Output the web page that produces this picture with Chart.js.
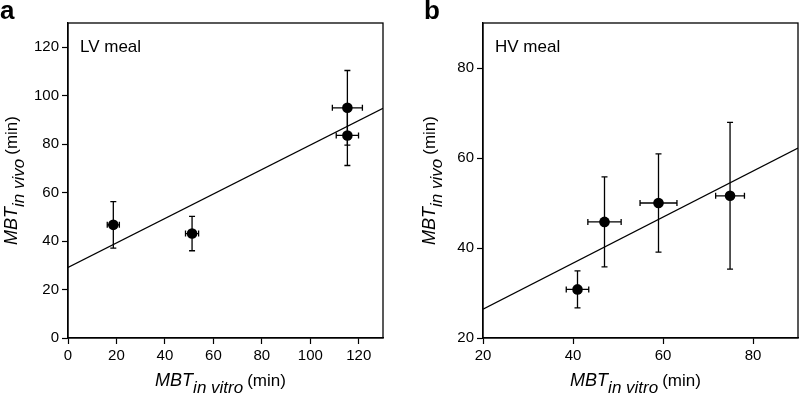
<!DOCTYPE html>
<html>
<head>
<meta charset="utf-8">
<script src="https://cdn.jsdelivr.net/npm/chart.js@4"></script>
<style>
  html, body { margin: 0; padding: 0; background: #fff; }
  #wrap { position: relative; width: 799px; height: 397px; }
  .panel { position: absolute; top: 0; height: 397px; }
  #panelA { left: 0; width: 400px; }
  #panelB { left: 400px; width: 399px; }
</style>
</head>
<body>
<div id="wrap">
  <div class="panel" id="panelA"><canvas id="chartA"></canvas></div>
  <div class="panel" id="panelB"><canvas id="chartB"></canvas></div>
</div>
<script>
// ===== DATA: LV meal =====
const LV_X = [18.7, 51.2, 115.3, 115.3];
const LV_Y = [46.7, 43.1, 95.0, 83.6];
const LV_XERR = [2.5, 2.7, 6.2, 4.6];
const LV_YERR = [9.6, 7.1, 15.4, 12.4];
const LV_FIT_X = [0, 130];
const LV_FIT_Y = [29.1, 94.8];
const LV_XTICKS = [0, 20, 40, 60, 80, 100, 120];
const LV_YTICKS = [0, 20, 40, 60, 80, 100, 120];

// ===== DATA: HV meal =====
const HV_X = [41.0, 47.0, 59.0, 74.9];
const HV_Y = [30.8, 45.8, 50.0, 51.6];
const HV_XERR = [2.5, 3.7, 4.1, 3.2];
const HV_YERR = [4.1, 10.0, 10.9, 16.3];
const HV_FIT_X = [20, 90];
const HV_FIT_Y = [26.4, 62.2];
const HV_XTICKS = [20, 40, 60, 80];
const HV_YTICKS = [20, 40, 60, 80];

// ===== STYLE =====
const FONT = "'Liberation Sans', Arial, Helvetica, sans-serif";
const INK = '#000';
const CAP = 3;

Chart.defaults.font.family = FONT;
Chart.defaults.color = INK;

// error bars, drawn under the markers from the scales
const errorBars = {
  id: 'errorBars',
  beforeDatasetsDraw(chart, args, opts) {
    const { ctx, scales: { x, y } } = chart;
    const pts = chart.data.datasets[0].data;
    ctx.save();
    ctx.strokeStyle = INK;
    ctx.lineWidth = 1.3;
    pts.forEach((p, i) => {
      const px = x.getPixelForValue(p.x), py = y.getPixelForValue(p.y);
      const x0 = x.getPixelForValue(p.x - opts.xErr[i]), x1 = x.getPixelForValue(p.x + opts.xErr[i]);
      const y0 = y.getPixelForValue(p.y - opts.yErr[i]), y1 = y.getPixelForValue(p.y + opts.yErr[i]);
      ctx.beginPath();
      ctx.moveTo(px, y0); ctx.lineTo(px, y1);
      ctx.moveTo(px - CAP, y0); ctx.lineTo(px + CAP, y0);
      ctx.moveTo(px - CAP, y1); ctx.lineTo(px + CAP, y1);
      ctx.moveTo(x0, py); ctx.lineTo(x1, py);
      ctx.moveTo(x0, py - CAP); ctx.lineTo(x0, py + CAP);
      ctx.moveTo(x1, py - CAP); ctx.lineTo(x1, py + CAP);
      ctx.stroke();
    });
    ctx.restore();
  }
};

// frame, panel letter, label and the axis titles with subscripts
function drawParts(ctx, parts) {
  let w = 0;
  parts.forEach(p => { ctx.font = p.font; w += ctx.measureText(p.text).width + (p.gap || 0); });
  let cx = -w / 2;
  parts.forEach(p => {
    ctx.font = p.font;
    cx += (p.gap || 0);
    ctx.fillText(p.text, cx, p.dy);
    cx += ctx.measureText(p.text).width;
  });
}

function titleParts(sub) {
  return [
    { text: 'MBT', font: `italic 18px ${FONT}`, dy: 0 },
    { text: sub, font: `italic 17px ${FONT}`, dy: 7 },
    { text: '(min)', font: `17px ${FONT}`, dy: 0, gap: 4 }
  ];
}

const decor = {
  id: 'decor',
  afterDraw(chart, args, opts) {
    const { ctx, chartArea: a } = chart;
    ctx.save();
    ctx.strokeStyle = INK;
    ctx.lineWidth = 1.3;
    ctx.strokeRect(a.left, a.top, a.right - a.left, a.bottom - a.top);
    ctx.fillStyle = INK;
    ctx.textAlign = 'left';
    ctx.textBaseline = 'alphabetic';

    ctx.font = `bold 26px ${FONT}`;
    ctx.fillText(opts.letter, opts.letterX, 19);

    ctx.font = `17px ${FONT}`;
    ctx.fillText(opts.label, a.left + 12, 52);

    ctx.save();
    ctx.translate((a.left + a.right) / 2 - 5, 386);
    drawParts(ctx, titleParts('in vitro'));
    ctx.restore();

    ctx.save();
    ctx.translate(opts.yTitleX, (a.top + a.bottom) / 2);
    ctx.rotate(-Math.PI / 2);
    drawParts(ctx, titleParts('in vivo'));
    ctx.restore();
    ctx.restore();
  }
};

function axis(min, max, ticks, fit) {
  return {
    type: 'linear', min, max,
    afterBuildTicks: s => { s.ticks = ticks.map(v => ({ value: v })); },
    afterFit: fit,
    grid: { display: true, drawOnChartArea: false, drawTicks: true, tickLength: 6, tickColor: INK, tickWidth: 1.2 },
    border: { display: true, color: INK, width: 1.3 },
    ticks: { color: INK, padding: 3, font: { size: 15 }, maxRotation: 0, autoSkip: false }
  };
}

function makeChart(id, cfg) {
  const pts = cfg.xs.map((v, i) => ({ x: v, y: cfg.ys[i] }));
  const fit = cfg.fitX.map((v, i) => ({ x: v, y: cfg.fitY[i] }));
  return new Chart(document.getElementById(id), {
    type: 'scatter',
    data: {
      datasets: [
        { data: pts, pointRadius: 5.3, pointHoverRadius: 5.3, backgroundColor: INK, borderWidth: 0 },
        { type: 'line', data: fit, showLine: true, pointRadius: 0, borderColor: INK, borderWidth: 1.2, fill: false }
      ]
    },
    options: {
      responsive: true, maintainAspectRatio: false, animation: false,
      layout: { padding: cfg.padding, autoPadding: false },
      plugins: {
        legend: { display: false }, tooltip: { enabled: false },
        errorBars: { xErr: cfg.xErr, yErr: cfg.yErr },
        decor: { letter: cfg.letter, letterX: cfg.letterX, label: cfg.label, yTitleX: cfg.yTitleX }
      },
      scales: {
        x: axis(cfg.xMin, cfg.xMax, cfg.xTicks, s => { s.height = 59; }),
        y: axis(cfg.yMin, cfg.yMax, cfg.yTicks, s => { s.width = cfg.yWidth; })
      }
    },
    plugins: [errorBars, decor]
  });
}

makeChart('chartA', {
  xs: LV_X, ys: LV_Y, xErr: LV_XERR, yErr: LV_YERR, fitX: LV_FIT_X, fitY: LV_FIT_Y,
  xMin: 0, xMax: 130, yMin: 0, yMax: 130, xTicks: LV_XTICKS, yTicks: LV_YTICKS,
  padding: { top: 23, right: 17, left: 0, bottom: 0 }, yWidth: 68,
  letter: 'a', letterX: 0, label: 'LV meal', yTitleX: 17
});

makeChart('chartB', {
  xs: HV_X, ys: HV_Y, xErr: HV_XERR, yErr: HV_YERR, fitX: HV_FIT_X, fitY: HV_FIT_Y,
  xMin: 20, xMax: 90, yMin: 20, yMax: 90, xTicks: HV_XTICKS, yTicks: HV_YTICKS,
  padding: { top: 23, right: 1, left: 0, bottom: 0 }, yWidth: 83,
  letter: 'b', letterX: 24, label: 'HV meal', yTitleX: 35
});
</script>
</body>
</html>
